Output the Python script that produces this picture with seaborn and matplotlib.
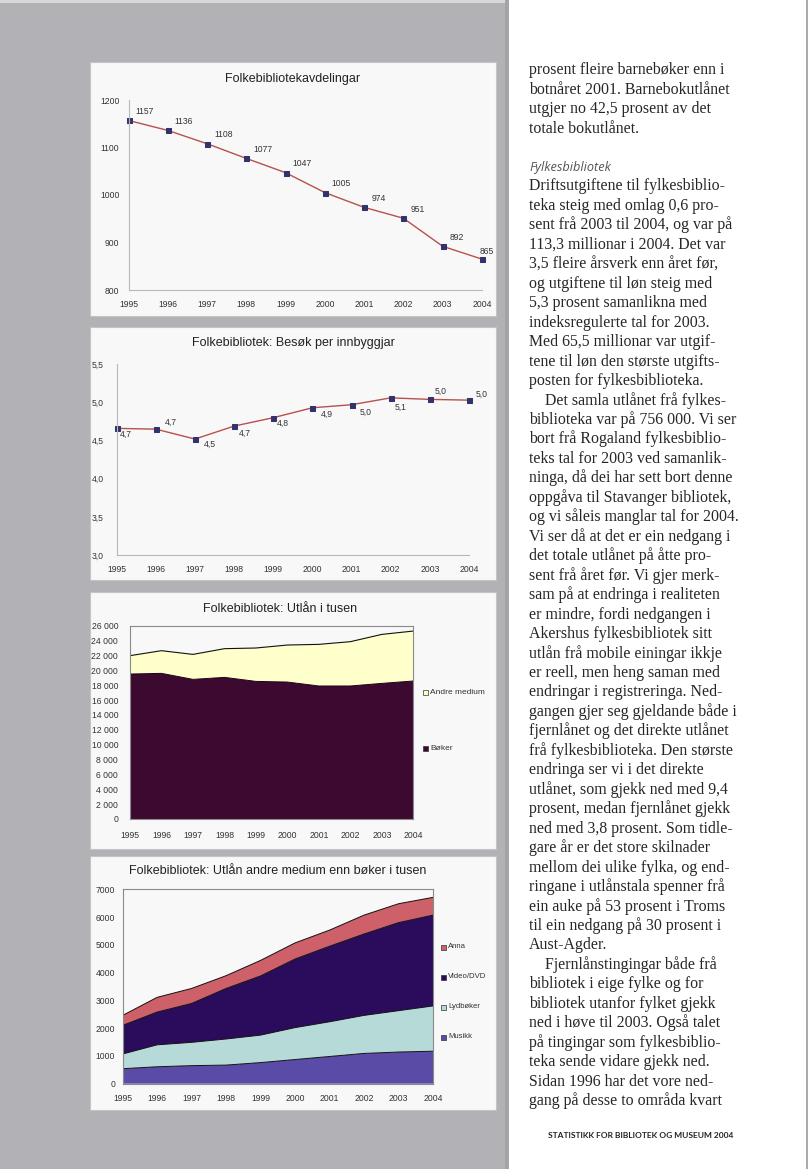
import matplotlib
matplotlib.use("Agg")
import matplotlib.pyplot as plt
import seaborn as sns
import pandas as pd
from matplotlib.patches import Rectangle
from matplotlib.lines import Line2D
from matplotlib.ticker import FuncFormatter, MultipleLocator

# ---------------- data ----------------
years = [1995, 1996, 1997, 1998, 1999, 2000, 2001, 2002, 2003, 2004]
avdelingar = [1157, 1136, 1108, 1077, 1047, 1005, 974, 951, 892, 865]
besok = [4.66, 4.65, 4.52, 4.69, 4.80, 4.93, 4.97, 5.06, 5.04, 5.03]
besok_labels = ["4,7", "4,7", "4,5", "4,7", "4,8", "4,9", "5,0", "5,1", "5,0", "5,0"]
utlan_boker = [19500, 19590, 18780, 19050, 18510, 18420, 17890, 17890, 18240, 18560]
utlan_andre = [2470, 3050, 3360, 3860, 4490, 4980, 5600, 5960, 6590, 6720]
utlan_names = ["Bøker", "Andre medium"]
musikk = [540, 610, 650, 670, 760, 870, 980, 1090, 1140, 1170]
lydboker = [530, 790, 840, 940, 990, 1150, 1250, 1370, 1490, 1630]
video = [1030, 1180, 1400, 1820, 2130, 2470, 2720, 2930, 3170, 3270]
anna = [360, 530, 540, 460, 560, 580, 580, 680, 680, 640]
medium_names = ["Musikk", "Lydbøker", "Video/DVD", "Anna"]

titles = ["Folkebibliotekavdelingar",
          "Folkebibliotek: Besøk per innbyggjar",
          "Folkebibliotek: Utlån i tusen",
          "Folkebibliotek: Utlån andre medium enn bøker i tusen"]

body_top = ["prosent fleire barnebøker enn i",
            "botnåret 2001. Barnebokutlånet",
            "utgjer no 42,5 prosent av det",
            "totale bokutlånet."]
heading = "Fylkesbibliotek"
body = ["Driftsutgiftene til fylkesbiblio-",
        "teka steig med omlag 0,6 pro-",
        "sent frå 2003 til 2004, og var på",
        "113,3 millionar i 2004. Det var",
        "3,5 fleire årsverk enn året før,",
        "og utgiftene til løn steig med",
        "5,3 prosent samanlikna med",
        "indeksregulerte tal for 2003.",
        "Med 65,5 millionar var utgif-",
        "tene til løn den største utgifts-",
        "posten for fylkesbiblioteka.",
        "\tDet samla utlånet frå fylkes-",
        "biblioteka var på 756 000. Vi ser",
        "bort frå Rogaland fylkesbiblio-",
        "teks tal for 2003 ved samanlik-",
        "ninga, då dei har sett bort denne",
        "oppgåva til Stavanger bibliotek,",
        "og vi såleis manglar tal for 2004.",
        "Vi ser då at det er ein nedgang i",
        "det totale utlånet på åtte pro-",
        "sent frå året før. Vi gjer merk-",
        "sam på at endringa i realiteten",
        "er mindre, fordi nedgangen i",
        "Akershus fylkesbibliotek sitt",
        "utlån frå mobile einingar ikkje",
        "er reell, men heng saman med",
        "endringar i registreringa. Ned-",
        "gangen gjer seg gjeldande både i",
        "fjernlånet og det direkte utlånet",
        "frå fylkesbiblioteka. Den største",
        "endringa ser vi i det direkte",
        "utlånet, som gjekk ned med 9,4",
        "prosent, medan fjernlånet gjekk",
        "ned med 3,8 prosent. Som tidle-",
        "gare år er det store skilnader",
        "mellom dei ulike fylka, og end-",
        "ringane i utlånstala spenner frå",
        "ein auke på 53 prosent i Troms",
        "til ein nedgang på 30 prosent i",
        "Aust-Agder.",
        "\tFjernlånstingingar både frå",
        "bibliotek i eige fylke og for",
        "bibliotek utanfor fylket gjekk",
        "ned i høve til 2003. Også talet",
        "på tingingar som fylkesbiblio-",
        "teka sende vidare gjekk ned.",
        "Sidan 1996 har det vore ned-",
        "gang på desse to områda kvart"]
footer = "STATISTIKK FOR BIBLIOTEK OG MUSEUM 2004"

# ---------------- style ----------------
sns.set_theme(style="white")
plt.rcParams["font.family"] = ["Liberation Sans", "DejaVu Sans"]
plt.rcParams["axes.facecolor"] = "none"

W, H = 810, 1169
fig = plt.figure(figsize=(W / 100, H / 100), dpi=100)
fig.patch.set_facecolor("white")


def fx(x):
    return x / W


def fy(y):
    return 1 - y / H


def rect_px(x0, y0, x1, y1, **kw):
    fig.patches.append(Rectangle((fx(x0), fy(y1)), (x1 - x0) / W, (y1 - y0) / H,
                                 transform=fig.transFigure, figure=fig, **kw))


def axes_px(x0, y0, x1, y1):
    return fig.add_axes([fx(x0), fy(y1), (x1 - x0) / W, (y1 - y0) / H])


# background
rect_px(0, 0, 508, H, facecolor="#b2b2b6", edgecolor="none", zorder=-5)
rect_px(0, 0, 508, 3, facecolor="#d8d8d8", edgecolor="none", zorder=-4)
rect_px(505, 0, 509, H, facecolor="#a4a4a8", edgecolor="none", zorder=-4)
fig.add_artist(Line2D([fx(807), fx(807)], [0, 1], transform=fig.transFigure,
                      color="#9a9a9a", lw=1.2, zorder=-4))

panels = [(90, 62, 496, 316), (90, 327, 496, 580), (90, 592, 496, 849), (90, 856, 496, 1110)]
for p in panels:
    rect_px(*p, facecolor="#f8f8f8", edgecolor="#c4c4c4", lw=0.8, zorder=-3)

title_pos = [(293, 79), (293, 343), (280, 609), (278, 871)]
for t, (x, y) in zip(titles, title_pos):
    fig.text(fx(x), fy(y), t, ha="center", va="center", fontsize=9, color="#222222")

LINE_C = "#b5524e"
MARK_C = "#34326a"
TXT_C = "#333333"
AX_C = "#b8b8b8"
LAB_FS = 6.2


def style_axes(ax, spine_color=AX_C, box=False):
    for s in ["top", "right"]:
        ax.spines[s].set_visible(box)
    for s in ax.spines.values():
        s.set_color(spine_color)
        s.set_linewidth(0.8)
    ax.tick_params(axis="both", labelsize=LAB_FS, colors=TXT_C, length=2.5, width=0.6,
                   color=spine_color, direction="out")
    ax.set_xticks(years)
    ax.set_xlabel("")
    ax.set_ylabel("")


# ---------- chart 1 ----------
ax1 = axes_px(128.5, 100, 482, 290)
sns.lineplot(x=years, y=avdelingar, ax=ax1, color=LINE_C, lw=1.0, marker="s",
             markersize=3.6, markerfacecolor=MARK_C, markeredgecolor=MARK_C, clip_on=False)
ax1.set_xlim(1995, 2004)
ax1.set_ylim(800, 1200)
ax1.yaxis.set_major_locator(MultipleLocator(100))
style_axes(ax1)
ax1.tick_params(axis="y", pad=4)
ax1.tick_params(axis="x", pad=5)
for i, (x, v) in enumerate(zip(years, avdelingar)):
    dx, dy = (7, 9) if i < 9 else (-2, 8)
    ax1.annotate(str(v), (x, v), xytext=(dx * 0.72, dy * 0.72), textcoords="offset points",
                 ha="left", va="center", fontsize=LAB_FS, color=TXT_C, annotation_clip=False)

# ---------- chart 2 ----------
ax2 = axes_px(116.7, 364.3, 469, 555)
sns.lineplot(x=years, y=besok, ax=ax2, color=LINE_C, lw=1.0, marker="s",
             markersize=3.6, markerfacecolor=MARK_C, markeredgecolor=MARK_C, clip_on=False)
ax2.set_xlim(1995, 2004)
ax2.set_ylim(3.0, 5.5)
ax2.yaxis.set_major_locator(MultipleLocator(0.5))
ax2.yaxis.set_major_formatter(FuncFormatter(lambda v, p: f"{v:.1f}".replace(".", ",")))
style_axes(ax2)
ax2.tick_params(axis="y", pad=7)
ax2.tick_params(axis="x", pad=5)
offs2 = [(3, 6), (9, -7), (9, 5), (5, 7), (4, 6), (8, 7), (8, 8), (4, 9), (5, -8), (7, -6)]
for (x, v, lab, (dx, dy)) in zip(years, besok, besok_labels, offs2):
    ax2.annotate(lab, (x, v), xytext=(dx * 0.72, -dy * 0.72), textcoords="offset points",
                 ha="left", va="center", fontsize=LAB_FS, color=TXT_C, annotation_clip=False)

# ---------- chart 3 ----------
ax3 = axes_px(130, 625.7, 413.3, 819)
c3 = ["#3c0a30", "#ffffcc"]
ax3.stackplot(years, utlan_boker, utlan_andre, colors=c3, edgecolor="none")
tot3 = [b + a for b, a in zip(utlan_boker, utlan_andre)]
sns.lineplot(x=years, y=utlan_boker, ax=ax3, color="#1a0014", lw=0.7)
sns.lineplot(x=years, y=tot3, ax=ax3, color="#111111", lw=0.8)
ax3.set_xlim(1995, 2004)
ax3.set_ylim(0, 26000)
ax3.yaxis.set_major_locator(MultipleLocator(2000))
ax3.yaxis.set_major_formatter(FuncFormatter(lambda v, p: f"{int(v):,}".replace(",", " ")))
style_axes(ax3, spine_color="#8a8a8a", box=True)
ax3.tick_params(axis="y", pad=6)
ax3.tick_params(axis="x", pad=6)
leg3 = [(utlan_names[1], c3[1], 692), (utlan_names[0], c3[0], 748)]
for name, col, y in leg3:
    rect_px(423, y - 2.5, 428, y + 2.5, facecolor=col, edgecolor="#333333", lw=0.5, zorder=3)
    fig.text(fx(430), fy(y), name, ha="left", va="center", fontsize=6, color=TXT_C)

# ---------- chart 4 ----------
ax4 = axes_px(122.7, 889.3, 433, 1083.7)
c4 = ["#5a4ba6", "#b5dad8", "#2a0b5c", "#cd6068"]
series4 = [musikk, lydboker, video, anna]
ax4.stackplot(years, *series4, colors=c4, edgecolor="none")
cum = [0] * len(years)
for s in series4:
    cum = [c + v for c, v in zip(cum, s)]
    sns.lineplot(x=years, y=cum, ax=ax4, color="#111111", lw=0.7)
ax4.set_xlim(1995, 2004)
ax4.set_ylim(0, 7000)
ax4.yaxis.set_major_locator(MultipleLocator(1000))
style_axes(ax4, spine_color="#8a8a8a", box=True)
ax4.tick_params(axis="y", pad=3)
ax4.tick_params(axis="x", pad=5)
leg4_y = [1037, 1007, 977, 947]
for name, col, y in zip(medium_names, c4, leg4_y):
    rect_px(441, y - 2.5, 446, y + 2.5, facecolor=col, edgecolor="#333333", lw=0.5, zorder=3)
    fig.text(fx(448), fy(y), name, ha="left", va="center", fontsize=5.6, color=TXT_C)

# ---------- right column text ----------
SERIF = ["Liberation Serif", "DejaVu Serif"]
TX = 529
FS = 11.4
for i, line in enumerate(body_top):
    fig.text(fx(TX), fy(70.7 + i * 19.45 + 3.5), line, ha="left", va="baseline",
             fontsize=FS, family=SERIF, color="#262626")
fig.text(fx(TX), fy(167 + 3.5), heading, ha="left", va="baseline", fontsize=9.2,
         family=["Open Sans", "DejaVu Sans"], style="italic", color="#555555")
for i, line in enumerate(body):
    x = TX
    if line.startswith("\t"):
        line = line[1:]
        x = TX + 16
    fig.text(fx(x), fy(187 + i * 19.46 + 3.5), line, ha="left", va="baseline",
             fontsize=FS, family=SERIF, color="#262626")
fig.text(fx(548), fy(1135.7), footer, ha="left", va="center", fontsize=6.0,
         family=["Lato", "DejaVu Sans"], weight="bold", color="#222222")

fig.savefig("out.png", dpi=100, facecolor=fig.get_facecolor())
